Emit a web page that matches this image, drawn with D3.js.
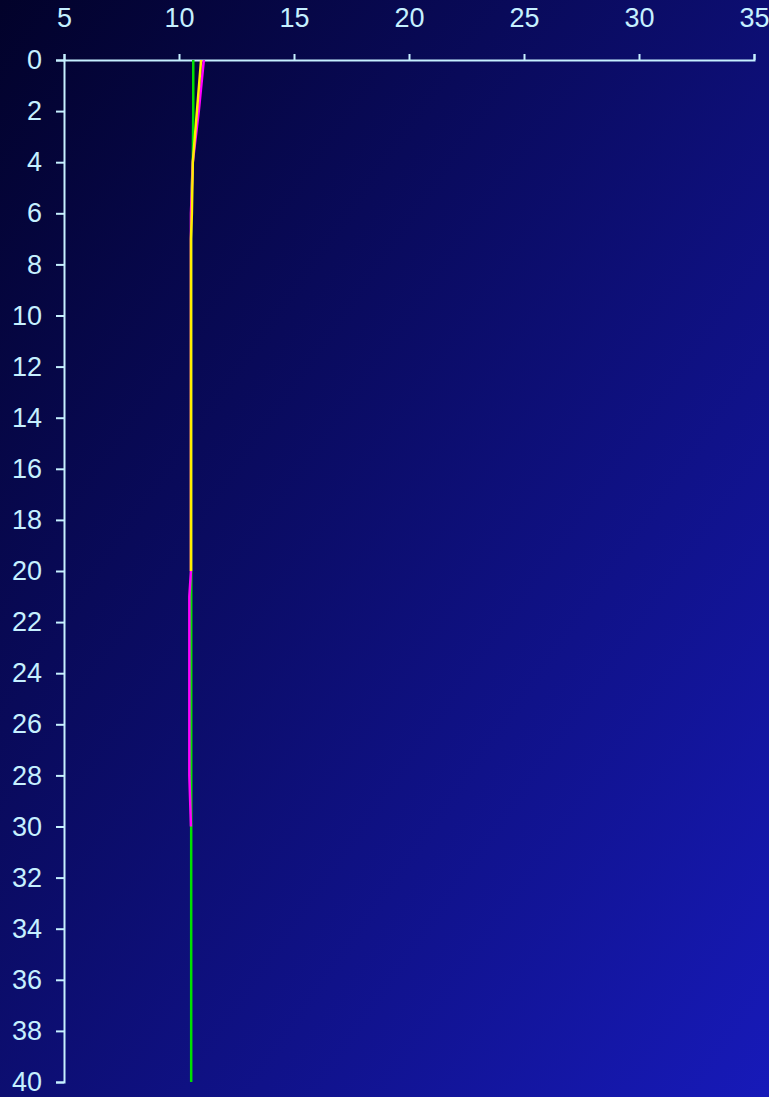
<!DOCTYPE html>
<html>
<head>
<meta charset="utf-8">
<script src="https://cdn.jsdelivr.net/npm/d3@7"></script>
<style>
	html, body { margin: 0; padding: 0; background: #02022a; }
	svg { display: block; }
	.axis path, .axis line { stroke: #c6f0ff; stroke-width: 2; }
</style>
</head>
<body>
<div id="chart"></div>
<script>
// temperature profiles: depth (m) vs value
const xTicks = [5, 10, 15, 20, 25, 30, 35];
const yTicks = d3.range(0, 41, 2);

const greenDepth = [0, 2, 4, 5, 6, 10, 20, 30, 40];
const greenTemp  = [10.62, 10.62, 10.6, 10.55, 10.53, 10.53, 10.53, 10.53, 10.53];

const magentaDepth = [0, 2, 4, 6, 8, 20, 21, 28, 30];
const magentaTemp  = [11.08, 10.86, 10.6, 10.52, 10.52, 10.52, 10.45, 10.45, 10.52];

const yellowDepth = [0, 2, 4, 6, 7, 20];
const yellowTemp  = [10.96, 10.78, 10.6, 10.56, 10.52, 10.52];

const width = 769;
const height = 1097;
const margin = { top: 60, right: 15, bottom: 15, left: 64 };

const svg = d3.select("#chart")
				.append("svg")
					.attr("width", width)
					.attr("height", height);

const grad = svg.append("defs")
				.append("linearGradient")
					.attr("id", "bg")
					.attr("x1", 0).attr("y1", 0)
					.attr("x2", 1).attr("y2", 1);
grad.append("stop").attr("offset", "0%").attr("stop-color", "#02022a");
grad.append("stop").attr("offset", "100%").attr("stop-color", "#171ab9");

svg.append("rect")
	.attr("width", width)
	.attr("height", height)
	.attr("fill", "url(#bg)");

const x = d3.scaleLinear()
			.domain([5, 35])
			.range([margin.left, width - margin.right]);

const y = d3.scaleLinear()
			.domain([0, 40])
			.range([margin.top, height - margin.bottom]);

const styleText = (g) => g.selectAll("text")
							.style("font-family", "'Liberation Sans', Arial, sans-serif")
							.style("font-size", "27px")
							.style("fill", "#c6f0ff");

svg.append("g")
	.attr("class", "axis")
	.attr("transform", `translate(0,${margin.top})`)
	.call(d3.axisTop(x).tickValues(xTicks).tickSize(6))
	.call(styleText)
	.call((g) => g.selectAll("text").attr("y", -33).attr("dy", "0"));

svg.append("g")
	.attr("class", "axis")
	.attr("transform", `translate(${margin.left},0)`)
	.call(d3.axisLeft(y).tickValues(yTicks).tickSize(8).tickPadding(14))
	.call(styleText);

const line = d3.line()
				.x((d) => x(d[1]))
				.y((d) => y(d[0]));

const series = [
	{ depth: greenDepth, temp: greenTemp, color: "#00e000" },
	{ depth: magentaDepth, temp: magentaTemp, color: "#ff00ff" },
	{ depth: yellowDepth, temp: yellowTemp, color: "#ffee00" }
];

series.forEach((s) => {
	svg.append("path")
		.datum(d3.zip(s.depth, s.temp))
		.attr("fill", "none")
		.attr("stroke", s.color)
		.attr("stroke-width", 2.5)
		.attr("d", line);
});
</script>
</body>
</html>
